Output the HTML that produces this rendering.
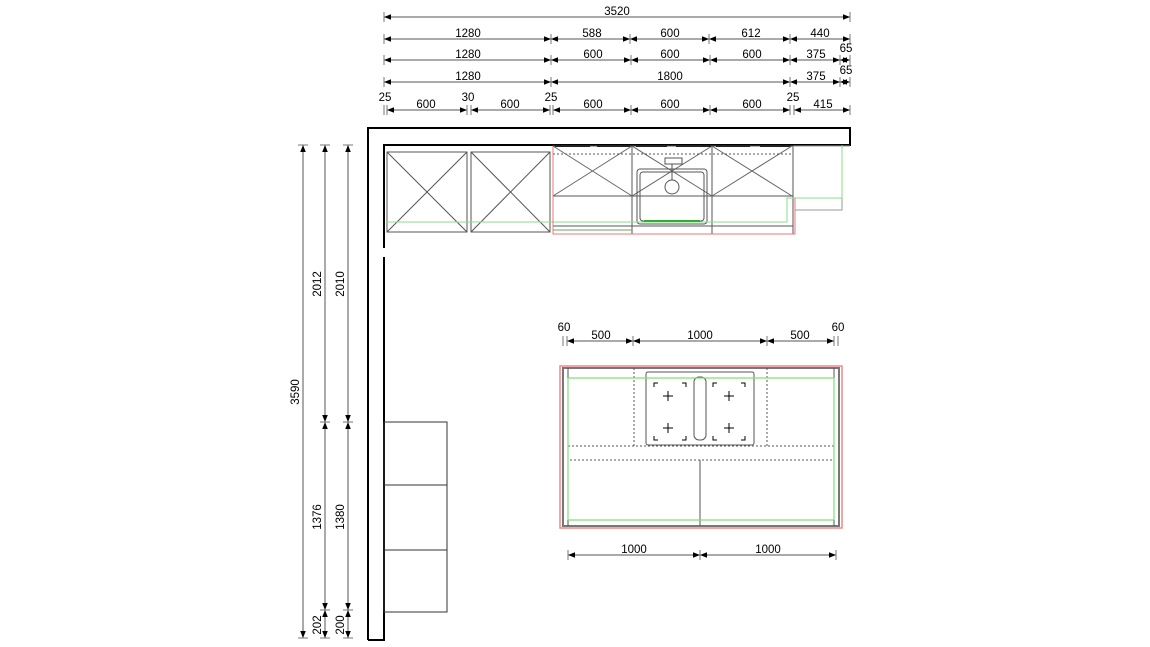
<!DOCTYPE html>
<html><head><meta charset="utf-8"><style>
html,body{margin:0;padding:0;background:#fff;}
svg{display:block;font-family:"Liberation Sans",sans-serif;}
</style></head><body>
<svg width="1150" height="647" viewBox="0 0 1150 647" xmlns="http://www.w3.org/2000/svg">
<defs>
<marker id="a" viewBox="0 0 10 10" refX="10" refY="5" markerWidth="7" markerHeight="7" orient="auto-start-reverse" markerUnits="userSpaceOnUse"><path d="M0,1 L10,5 L0,9 z" fill="#000"/></marker>
</defs>
<g stroke="#555" stroke-width="1" marker-start="url(#a)" marker-end="url(#a)">
<line x1="384" y1="17" x2="850" y2="17"/>
<line x1="384" y1="39" x2="551" y2="39"/><line x1="551" y1="39" x2="630" y2="39"/><line x1="630" y1="39" x2="709" y2="39"/><line x1="709" y1="39" x2="790" y2="39"/><line x1="790" y1="39" x2="850" y2="39"/>
<line x1="384" y1="60" x2="551" y2="60"/><line x1="551" y1="60" x2="631" y2="60"/><line x1="631" y1="60" x2="710" y2="60"/><line x1="710" y1="60" x2="790" y2="60"/><line x1="790" y1="60" x2="840" y2="60"/><line x1="840" y1="60" x2="850" y2="60"/>
<line x1="384" y1="82" x2="551" y2="82"/><line x1="551" y1="82" x2="790" y2="82"/><line x1="790" y1="82" x2="840" y2="82"/><line x1="840" y1="82" x2="850" y2="82"/>
<line x1="387" y1="110" x2="467" y2="110"/><line x1="471" y1="110" x2="550" y2="110"/><line x1="553" y1="110" x2="631" y2="110"/><line x1="631" y1="110" x2="710" y2="110"/><line x1="710" y1="110" x2="790" y2="110"/><line x1="794" y1="110" x2="850" y2="110"/>
<line x1="567" y1="341" x2="633" y2="341"/><line x1="633" y1="341" x2="767" y2="341"/><line x1="767" y1="341" x2="834" y2="341"/>
<line x1="568" y1="555" x2="700" y2="555"/><line x1="700" y1="555" x2="836" y2="555"/>
<line x1="303" y1="145" x2="303" y2="638"/>
<line x1="325" y1="145" x2="325" y2="422"/><line x1="325" y1="422" x2="325" y2="610"/><line x1="325" y1="610" x2="325" y2="638"/>
<line x1="348" y1="145" x2="348" y2="422"/><line x1="348" y1="422" x2="348" y2="610"/><line x1="348" y1="610" x2="348" y2="638"/>
</g>
<g stroke="#777" stroke-width="1">
<path d="M384,12V22M850,12V22M384,34V44M551,34V44M630,34V44M709,34V44M790,34V44M850,34V44M384,55V65M551,55V65M631,55V65M710,55V65M790,55V65M840,55V65M850,55V65M384,77V87M551,77V87M790,77V87M840,77V87M850,77V87M384,105V115M387,105V115M467,105V115M471,105V115M550,105V115M553,105V115M631,105V115M710,105V115M790,105V115M794,105V115M850,105V115"/>
<path d="M563,336V346M567,336V346M633,336V346M767,336V346M834,336V346M838,336V346M568,550V560M700,550V560M836,550V560"/>
<path d="M298,145H308M320,145H330M343,145H353M298,638H308M320,422H330M343,422H353M320,610H330M343,610H353M320,638H330M343,638H353"/>
</g>
<g font-size="11.5" fill="#000" text-anchor="middle">
<text x="617" y="15">3520</text>
<text x="468" y="37">1280</text><text x="592" y="37">588</text><text x="670" y="37">600</text><text x="751" y="37">612</text><text x="820" y="37">440</text>
<text x="468" y="58">1280</text><text x="593" y="58">600</text><text x="670" y="58">600</text><text x="752" y="58">600</text><text x="816" y="58">375</text><text x="846" y="52">65</text>
<text x="468" y="80">1280</text><text x="670" y="80">1800</text><text x="816" y="80">375</text><text x="846" y="74">65</text>
<text x="385" y="101">25</text><text x="426" y="108">600</text><text x="468" y="101">30</text><text x="510" y="108">600</text><text x="551" y="101">25</text><text x="593" y="108">600</text><text x="670" y="108">600</text><text x="752" y="108">600</text><text x="793" y="101">25</text><text x="823" y="108">415</text>
<text x="564" y="331">60</text><text x="601" y="339">500</text><text x="700" y="339">1000</text><text x="800" y="339">500</text><text x="838" y="331">60</text>
<text x="634" y="553">1000</text><text x="768" y="553">1000</text>
<text transform="translate(299,392) rotate(-90)">3590</text>
<text transform="translate(321,284) rotate(-90)">2012</text>
<text transform="translate(344,284) rotate(-90)">2010</text>
<text transform="translate(321,517) rotate(-90)">1376</text>
<text transform="translate(344,517) rotate(-90)">1380</text>
<text transform="translate(321,625) rotate(-90)">202</text>
<text transform="translate(344,625) rotate(-90)">200</text>
</g>
<g fill="none" stroke="#000" stroke-width="2">
<path d="M368,640V128H850V145H384V248"/>
<path d="M384,257V640H368"/>
</g>
<g fill="none" stroke="#333" stroke-width="1">
<rect x="384" y="422" width="63" height="190"/>
<path d="M384,485H447M384,550H447"/>
</g>
<g fill="none" stroke="#555" stroke-width="1">
<rect x="387" y="152" width="80" height="80"/>
<rect x="471" y="152" width="79" height="80"/>
<path d="M387,152L467,232M467,152L387,232M471,152L550,232M550,152L471,232"/>
<rect x="553" y="146" width="240" height="88"/>
<path d="M553,196H793M553,226H793"/>
<path d="M632,146V234M712,146V234"/>
<path d="M553,146L632,196M632,146L553,196M632,146L712,196M712,146L632,196M712,146L792,196M792,146L712,196" stroke="#666"/>
<path d="M553,154H792" stroke-dasharray="2,2"/>
<rect x="637" y="169" width="70" height="55" rx="3"/>
<rect x="640" y="172" width="64" height="49" rx="3"/>
<circle cx="672" cy="187" r="7"/>
<rect x="665" y="158" width="17" height="6"/>
<path d="M672,164V180"/>
<path d="M793,146H850M795,198H842V145M795,198V210H842V198" stroke="#999"/>
</g>
<g stroke="#222" stroke-width="2"><path d="M555,146H590M597,146H630M636,146H667M676,146H711M716,146H750M760,146H790"/></g>
<g stroke="#88dd88" stroke-width="1" fill="none"><path d="M386,222H787V198H842V146"/><path d="M553,230H632" stroke="#6a6"/><path d="M644,221H700" stroke="#3a3" stroke-width="2"/></g>
<path d="M553,146V234H795V198" fill="none" stroke="#e77" stroke-width="1"/>
<rect x="560" y="366" width="282" height="162" fill="none" stroke="#e88" stroke-width="1.5"/>
<rect x="563" y="368" width="276" height="158" fill="none" stroke="#777" stroke-width="2"/>
<g fill="none" stroke="#555" stroke-width="1">
<path d="M568,368V526M834,368V526M700,460V526"/>
<path d="M634,368V446M767,368V446M568,446H834M570,460H834" stroke-dasharray="2,2"/>
<rect x="646" y="372" width="108" height="73" rx="2"/>
<rect x="694" y="377" width="12" height="63" rx="5"/>
</g>
<g stroke="#7de07d" stroke-width="1.2" fill="none"><path d="M568,378H834M568,520H834M568,378V520M834,378V520"/></g>
<g stroke="#000" stroke-width="1" fill="none">
<path d="M668,391v10M663,396h10M668,423v10M663,428h10M729,391v10M724,396h10M729,423v10M724,428h10"/>
<path d="M654,387v-4h4M686,387v-4h-4M654,436v4h4M686,436v4h-4M713,387v-4h4M745,387v-4h-4M713,436v4h4M745,436v4h-4"/>
</g>
</svg>
</body></html>
